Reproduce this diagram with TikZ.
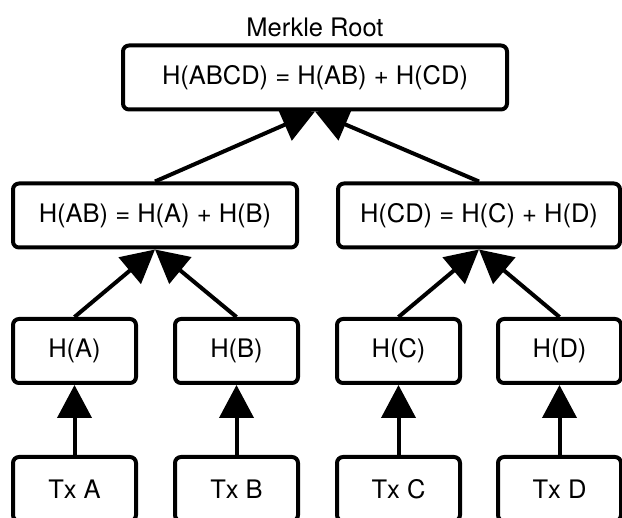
\documentclass[tikz,border=0pt]{standalone}
\usepackage{fontspec}
\setmainfont{TeX Gyre Heros}
\usepackage{tikz}
\usetikzlibrary{arrows.meta}
\tikzset{
  hashbox/.style={
    draw,
    line width=4pt,
    rounded corners=6pt,
    inner sep=0pt,
    minimum height=64pt,
    font=\fontsize{25.5}{30}\selectfont
  },
  leafbox/.style={
    hashbox,
    minimum width=123pt
  },
  link/.style={
    line width=4pt,
    -{Triangle[length=33pt,width=34pt]}
  },
  every picture/.style={
    font=\fontsize{25.5}{30}\selectfont
  }
}
\begin{document}
\begin{tikzpicture}[x=1pt,y=-1pt]
    \useasboundingbox (0,0) rectangle (622,518);
    % root
    \node (title) at (315,27) {Merkle Root};
    \node[hashbox, minimum width=384pt] (root) at (315,77.5) {H(ABCD) = H(AB) + H(CD)};
    % level 2
    \node[hashbox, minimum width=284pt] (ab) at (155,215.5) {H(AB) = H(A) + H(B)};
    \node[hashbox, minimum width=282pt] (cd) at (479,215.5) {H(CD) = H(C) + H(D)};
    % leaves
    \node[leafbox] (ha) at (74.5,351) {H(A)};
    \node[leafbox] (hb) at (236.5,351) {H(B)};
    \node[leafbox] (hc) at (398.5,351) {H(C)};
    \node[leafbox] (hd) at (559.5,351) {H(D)};
    % transactions
    \node[leafbox] (txa) at (74.5,489) {Tx A};
    \node[leafbox] (txb) at (236.5,489) {Tx B};
    \node[leafbox] (txc) at (398.5,489) {Tx C};
    \node[leafbox] (txd) at (559.5,489) {Tx D};
    % arrows
    \draw[link] (ab.north) -- (root.south);
    \draw[link] (cd.north) -- (root.south);
    \draw[link] (ha.north) -- (ab.south);
    \draw[link] (hb.north) -- (ab.south);
    \draw[link] (hc.north) -- (cd.south);
    \draw[link] (hd.north) -- (cd.south);
    \draw[link] (txa) -- (ha);
    \draw[link] (txb) -- (hb);
    \draw[link] (txc) -- (hc);
    \draw[link] (txd) -- (hd);
\end{tikzpicture}
\end{document}
